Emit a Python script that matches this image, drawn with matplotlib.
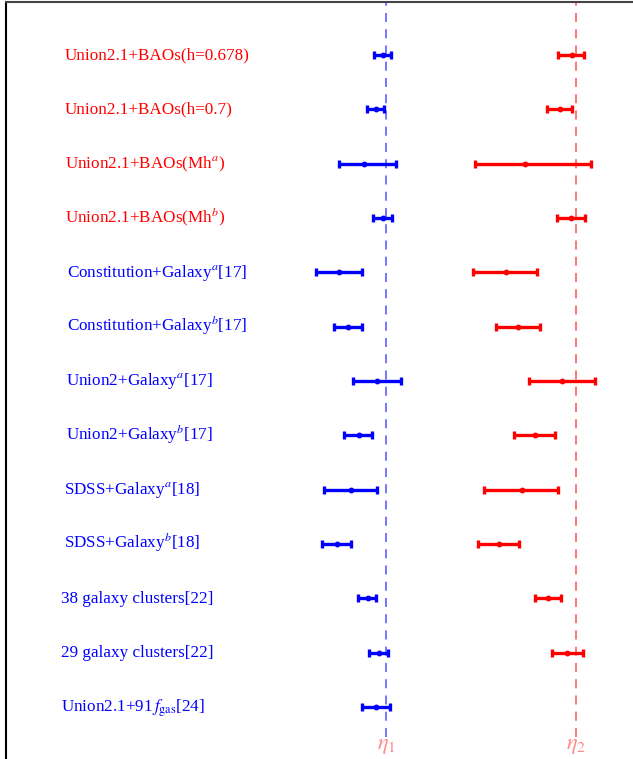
import matplotlib
matplotlib.use("Agg")
import matplotlib.pyplot as plt
import numpy as np

plt.rcParams['font.family'] = ['Liberation Serif', 'DejaVu Serif']
plt.rcParams['mathtext.fontset'] = 'stix'

labels = [
    r'Union2.1+BAOs(h=0.678)',
    r'Union2.1+BAOs(h=0.7)',
    r'Union2.1+BAOs(Mh$^{a}$)',
    r'Union2.1+BAOs(Mh$^{b}$)',
    r'Constitution+Galaxy$^{a}$[17]',
    r'Constitution+Galaxy$^{b}$[17]',
    r'Union2+Galaxy$^{a}$[17]',
    r'Union2+Galaxy$^{b}$[17]',
    r'SDSS+Galaxy$^{a}$[18]',
    r'SDSS+Galaxy$^{b}$[18]',
    r'38 galaxy clusters[22]',
    r'29 galaxy clusters[22]',
    r'Union2.1+91$\,f_{\rm gas}$[24]',
]
label_colors = ['red'] * 4 + ['blue'] * 9
label_x = [65, 65, 65, 65, 67, 67, 66, 66, 64, 64, 61, 61, 61]

# eta1 (blue) estimates: low, central, high (horizontal position units)
eta1_low = [374.0, 366.7, 338.7, 373.0, 316.0, 333.7, 352.7, 344.0, 323.7, 322.3, 358.0, 369.0, 361.7]
eta1_mid = [383.0, 375.7, 364.3, 382.7, 339.3, 348.3, 377.3, 358.7, 350.7, 337.0, 367.7, 378.7, 376.0]
eta1_high = [390.7, 383.7, 396.0, 391.7, 361.7, 362.0, 401.3, 372.3, 377.0, 350.7, 376.0, 387.7, 389.7]

# eta2 (red) estimates; last dataset has no eta2
eta2_low = [558.3, 546.7, 475.3, 557.0, 473.3, 496.0, 529.0, 513.7, 484.3, 478.3, 535.0, 551.7]
eta2_mid = [572.0, 560.0, 525.0, 571.3, 505.7, 518.0, 562.3, 534.7, 521.7, 499.0, 548.3, 567.3]
eta2_high = [584.0, 572.3, 591.3, 585.3, 537.0, 539.7, 595.3, 554.7, 558.3, 519.3, 561.3, 582.7]

eta1_ref = 386.0
eta2_ref = 576.0

fig = plt.figure(figsize=(6.33, 7.59), dpi=100)
ax = fig.add_axes([6 / 633, 0.0, 1 - 6 / 633, 1 - 1.5 / 759])

n = len(labels)
rows1 = np.arange(n)
rows2 = np.arange(len(eta2_mid))

e1 = np.array(eta1_mid)
ax.errorbar(e1, rows1,
            xerr=[e1 - np.array(eta1_low), np.array(eta1_high) - e1],
            fmt='o', color='blue', ms=3.2, elinewidth=2.4, capsize=3, capthick=2.4, zorder=3)
e2 = np.array(eta2_mid)
ax.errorbar(e2, rows2,
            xerr=[e2 - np.array(eta2_low), np.array(eta2_high) - e2],
            fmt='o', color='red', ms=3.2, elinewidth=2.4, capsize=3, capthick=2.4, zorder=3)

ybot = 12.55
ax.plot([eta1_ref, eta1_ref], [ybot, -2], ls=(0, (5, 4)), color='#6b6bff', lw=1.3, zorder=2)
ax.plot([eta2_ref, eta2_ref], [ybot, -2], ls=(0, (5, 4)), color='#ff6b6b', lw=1.3, zorder=2)
ax.text(eta1_ref, 12.73, r'$\eta_1$', color='#ff8a8a', ha='center', va='center', fontsize=16)
ax.text(eta2_ref, 12.73, r'$\eta_2$', color='#ff8a8a', ha='center', va='center', fontsize=16)

row_px = 54.33
for i, (lab, c, x) in enumerate(zip(labels, label_colors, label_x)):
    ax.text(x, i + 4.5 / row_px, lab, color=c, ha='left', va='baseline', fontsize=12.3)

ax.set_xlim(6, 633)
ax.set_ylim((759 - 55) / row_px, (1.5 - 55) / row_px)
ax.set_xticks([])
ax.set_yticks([])
ax.spines['right'].set_visible(False)
ax.spines['bottom'].set_visible(False)
ax.spines['left'].set_linewidth(1.5)
ax.spines['top'].set_linewidth(1.5)
ax.spines['top'].set_color('#444444')

fig.savefig('out.png', dpi=100)
